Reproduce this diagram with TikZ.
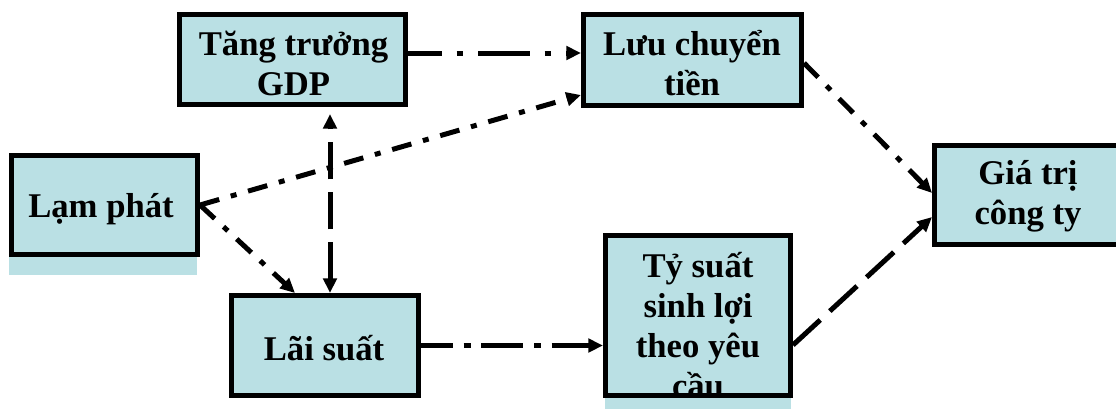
\documentclass[tikz,border=0pt]{standalone}
\usepackage{fontspec}
\setmainfont{Liberation Serif}
\usetikzlibrary{arrows.meta}
\definecolor{boxfill}{RGB}{186,224,228}
\tikzset{
  box/.style={draw=black, line width=3.75pt, fill=boxfill, rectangle, inner sep=0pt},
  txt/.style={font=\fontsize{26}{30}\selectfont\bfseries, inner sep=0pt, anchor=base},
  conn/.style={line width=3.75pt, -{Triangle[length=11pt,width=10pt]}},
  conndbl/.style={line width=3.75pt, {Triangle[length=11pt,width=10pt]}-{Triangle[length=11pt,width=10pt]}},
  ddlong/.style={dash pattern=on 39pt off 11pt on 5pt off 11pt, dash phase=13.5pt},
  ddmid/.style={dash pattern=on 31.5pt off 8pt on 5.25pt off 8pt, dash phase=7.5pt},
  ddshort/.style={dash pattern=on 15pt off 9pt on 4.5pt off 9pt},
  dlong/.style={dash pattern=on 27.75pt off 9.75pt}
}
\begin{document}
\begin{tikzpicture}[x=0.75pt,y=-0.75pt]
\useasboundingbox (0,0) rectangle (1116,408);
\clip (0,0) rectangle (1116,408);
% overflow fills of the text frames
\fill[boxfill] (9,153) rectangle (197,275);
\fill[boxfill] (605,233) rectangle (791,420);
% boxes
\node[box, minimum width=169.5pt, minimum height=67.5pt] (gdp) at (292.5,59.5) {};
\node[box, minimum width=163.5pt, minimum height=68.25pt] (lc) at (692.5,60) {};
\node[box, minimum width=139.5pt, minimum height=74.25pt] (lp) at (104.5,205) {};
\node[box, minimum width=140.6pt, minimum height=74.25pt] (gt) at (1028.25,195) {};
\node[box, minimum width=140.25pt, minimum height=75pt] (ls) at (325,345.5) {};
\node[box, draw=none, minimum width=138.75pt, minimum height=120pt] (ts) at (698,315.5) {};
% texts
\node[txt] (gdp1) at (293.5,55) {Tăng trưởng};
\node[txt] (gdp2) at (293.5,95) {GDP};
\node[txt] (lc1) at (692,55) {Lưu chuyển};
\node[txt] (lc2) at (692,95) {tiền};
\node[txt] (lp1) at (101,217) {Lạm phát};
\node[txt] (gt1) at (1028,184) {Giá trị};
\node[txt] (gt2) at (1028,224) {công ty};
\node[txt] (ls1) at (324,360) {Lãi suất};
\node[txt] (ts1) at (698,277) {Tỷ suất};
\node[txt] (ts2) at (698,317) {sinh lợi};
\node[txt] (ts3) at (698,357) {theo yêu};
\node[txt] (ts4) at (698,397) {cầu};
% frame of the required-return box drawn over its overflowing text
\draw[line width=3.75pt] ([shift={(1.875pt,1.875pt)}]ts.south west) rectangle ([shift={(-1.875pt,-1.875pt)}]ts.north east);
% connectors
\draw[conn, ddlong] ([yshift=4.875pt]gdp.east) -- ([yshift=4.875pt]gdp.east -| lc.west);
\draw[conn, ddshort] (lp.east) -- ([yshift=-26.25pt]lc.west);
\draw[conn, ddshort] (lp.east) -- ([xshift=-22.5pt]ls.north);
\coordinate (vb) at ([xshift=3.75pt]ls.north);
\coordinate (vt) at (vb |- gdp.south);
\draw[conndbl, dlong, shorten >=5.25pt] (vb) -- (vt);
\draw[conn, ddmid] (ls.east) -- (ls.east -| ts.west);
\draw[conn, ddshort] ([yshift=-2.25pt]lc.east) -- ([yshift=1.5pt]gt.west);
\draw[conn, dlong] ([yshift=-22.125pt]ts.east) -- ([yshift=-16.5pt]gt.west);
\end{tikzpicture}
\end{document}
